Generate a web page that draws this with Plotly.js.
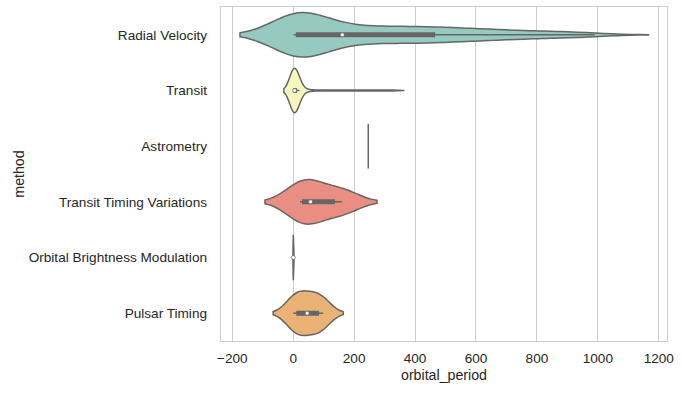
<!DOCTYPE html>
<html><head><meta charset="utf-8">
<script src="https://cdn.plot.ly/plotly-3.0.1.min.js"></script>
<style>html,body{margin:0;padding:0;background:#fff;}#chart{width:681px;height:393px;}</style>
</head><body><div id="chart"></div>
<script>
// categories (top to bottom)
const methods = ["Radial Velocity", "Transit", "Astrometry", "Transit Timing Variations", "Orbital Brightness Modulation", "Pulsar Timing"];

// orbital periods (days) per method
const radialVelocity = [1.3, 2.2, 2.6, 2.9, 3.1, 3.2, 3.3, 3.5, 3.5, 3.7, 3.9, 4.1, 4.2, 4.5, 4.6, 4.9, 5.2, 5.6, 6.0, 6.4, 7.1, 7.8, 8.5, 9.4, 10.3,
  12.1, 14.3, 15.8, 18.4, 20.2, 22.1, 25.6, 28.9, 31.6, 34.8, 39.5, 44.3, 49.4, 55.8, 62.1, 69.5, 75.3, 83.9, 92.6, 101.5, 111.2, 122.4, 133.6, 145.7, 156.2,
  166.3, 178.1, 189.6, 202.4, 214.8, 226.5, 239.3, 251.7, 263.2, 275.8, 288.4, 300.6, 313.1, 325.9, 338.2, 350.7, 363.5, 376.1, 388.4, 400.2, 412.8, 425.3, 437.6, 449.1, 456.8,
  470.2, 483.5, 497.1, 511.6, 526.3, 541.8, 557.2, 573.4, 589.6, 606.1, 623.3, 641.2, 659.8, 679.4, 700.3, 722.6, 746.1, 771.4, 798.2, 827.5, 858.7, 892.3, 927.8, 958.4, 989.7];
const transit = [0.35, 0.59, 0.74, 0.88, 0.94, 1.09, 1.18, 1.27, 1.34, 1.42, 1.49, 1.58, 1.67, 1.76, 1.86, 1.95, 2.04, 2.18, 2.29, 2.42,
  2.52, 2.61, 2.73, 2.82, 2.89, 2.96, 3.05, 3.12, 3.21, 3.28, 3.35, 3.47, 3.52, 3.61, 3.71, 3.9, 4.05, 4.17, 4.29, 4.44,
  4.58, 4.7, 4.81, 4.96, 5.1, 5.25, 5.51, 5.72, 5.9, 6.1, 6.53, 6.87, 7.24, 7.65, 8.2, 8.73, 9.02, 9.29, 9.63, 9.95,
  10.9, 12.6, 14.5, 17.3, 20.4, 24.6, 31.5, 44.2, 63.8, 87.5, 111.3, 138.7, 162.4, 188.9, 213.2, 241.6, 268.3, 299.1, 331.6];
const astrometry = [246.36];
const transitTimingVariations = [22.3395, 57.011, 160.0];
const orbitalBrightnessModulation = [0.240104, 0.342887, 1.544929];
const pulsarTiming = [0.090706, 25.262, 66.5419, 98.2114];

const xTicks = [-200, 0, 200, 400, 600, 800, 1000, 1200];

// kernel bandwidths (days)
const bandwidths = [88, 15.5, 0, 57.5, 0.58, 33];
const colors = ["#96cac1", "#f6f6bd", "#bdbad3", "#ea8e83", "#8aafc9", "#eab375"];

const series = [radialVelocity, transit, astrometry, transitTimingVariations, orbitalBrightnessModulation, pulsarTiming];
const gray = "#666666";
const halfWidth = 0.4;

function quantile(arr, p) {
  const s = arr.slice().sort((a, b) => a - b);
  const idx = p * (s.length - 1);
  const lo = Math.floor(idx), hi = Math.ceil(idx);
  return s[lo] + (s[hi] - s[lo]) * (idx - lo);
}

const traces = [];
series.forEach((vals, i) => {
  if (vals.length > 1) {
    traces.push({
      type: "violin", orientation: "h",
      x: vals, y0: i, name: methods[i],
      bandwidth: bandwidths[i], spanmode: "soft",
      scalemode: "width", width: 2 * halfWidth,
      side: "both", points: false,
      fillcolor: colors[i], opacity: 1,
      line: {color: gray, width: 1.5},
      box: {visible: true, width: 0.08, fillcolor: gray, line: {color: gray, width: 1.5}},
      meanline: {visible: false},
      hoverinfo: "skip", showlegend: false
    });
  } else {
    traces.push({
      type: "scatter", mode: "lines",
      x: [vals[0], vals[0]], y: [i - halfWidth, i + halfWidth],
      line: {color: gray, width: 1.5},
      hoverinfo: "skip", showlegend: false
    });
  }
});
// median dots
const medX = [], medY = [];
series.forEach((vals, i) => { if (vals.length > 1) { medX.push(quantile(vals, 0.5)); medY.push(i); } });
traces.push({
  type: "scatter", mode: "markers", x: medX, y: medY,
  marker: {size: 4, color: "white", line: {color: gray, width: 0.7}},
  hoverinfo: "skip", showlegend: false
});

const font = {family: "Liberation Sans, Arial, sans-serif", size: 13.6, color: "#262626"};
const titleFont = {family: "Liberation Sans, Arial, sans-serif", size: 14.2, color: "#262626"};
const layout = {
  width: 681, height: 393,
  margin: {l: 221, r: 14, t: 7, b: 52},
  paper_bgcolor: "white", plot_bgcolor: "white",
  font: font,
  violinmode: "overlay",
  showlegend: false,
  xaxis: {
    range: [-237, 1227], tickvals: xTicks,
    showgrid: true, gridcolor: "#cccccc", gridwidth: 1,
    zeroline: false, showline: true, mirror: true, linecolor: "#cccccc", linewidth: 1.25,
    ticks: "", tickfont: font, ticklabelstandoff: 4,
    title: {text: "orbital_period", font: titleFont, standoff: 5}
  },
  yaxis: {
    range: [5.5, -0.5], tickvals: methods.map((m, i) => i), ticktext: methods,
    showgrid: false, zeroline: false, showline: true, mirror: true, linecolor: "#cccccc", linewidth: 1.25,
    ticks: "", tickfont: font, ticklabelstandoff: 10,
    title: {text: "method", font: titleFont, standoff: 0}
  }
};
Plotly.newPlot("chart", traces, layout, {staticPlot: true, displayModeBar: false});
</script></body></html>
